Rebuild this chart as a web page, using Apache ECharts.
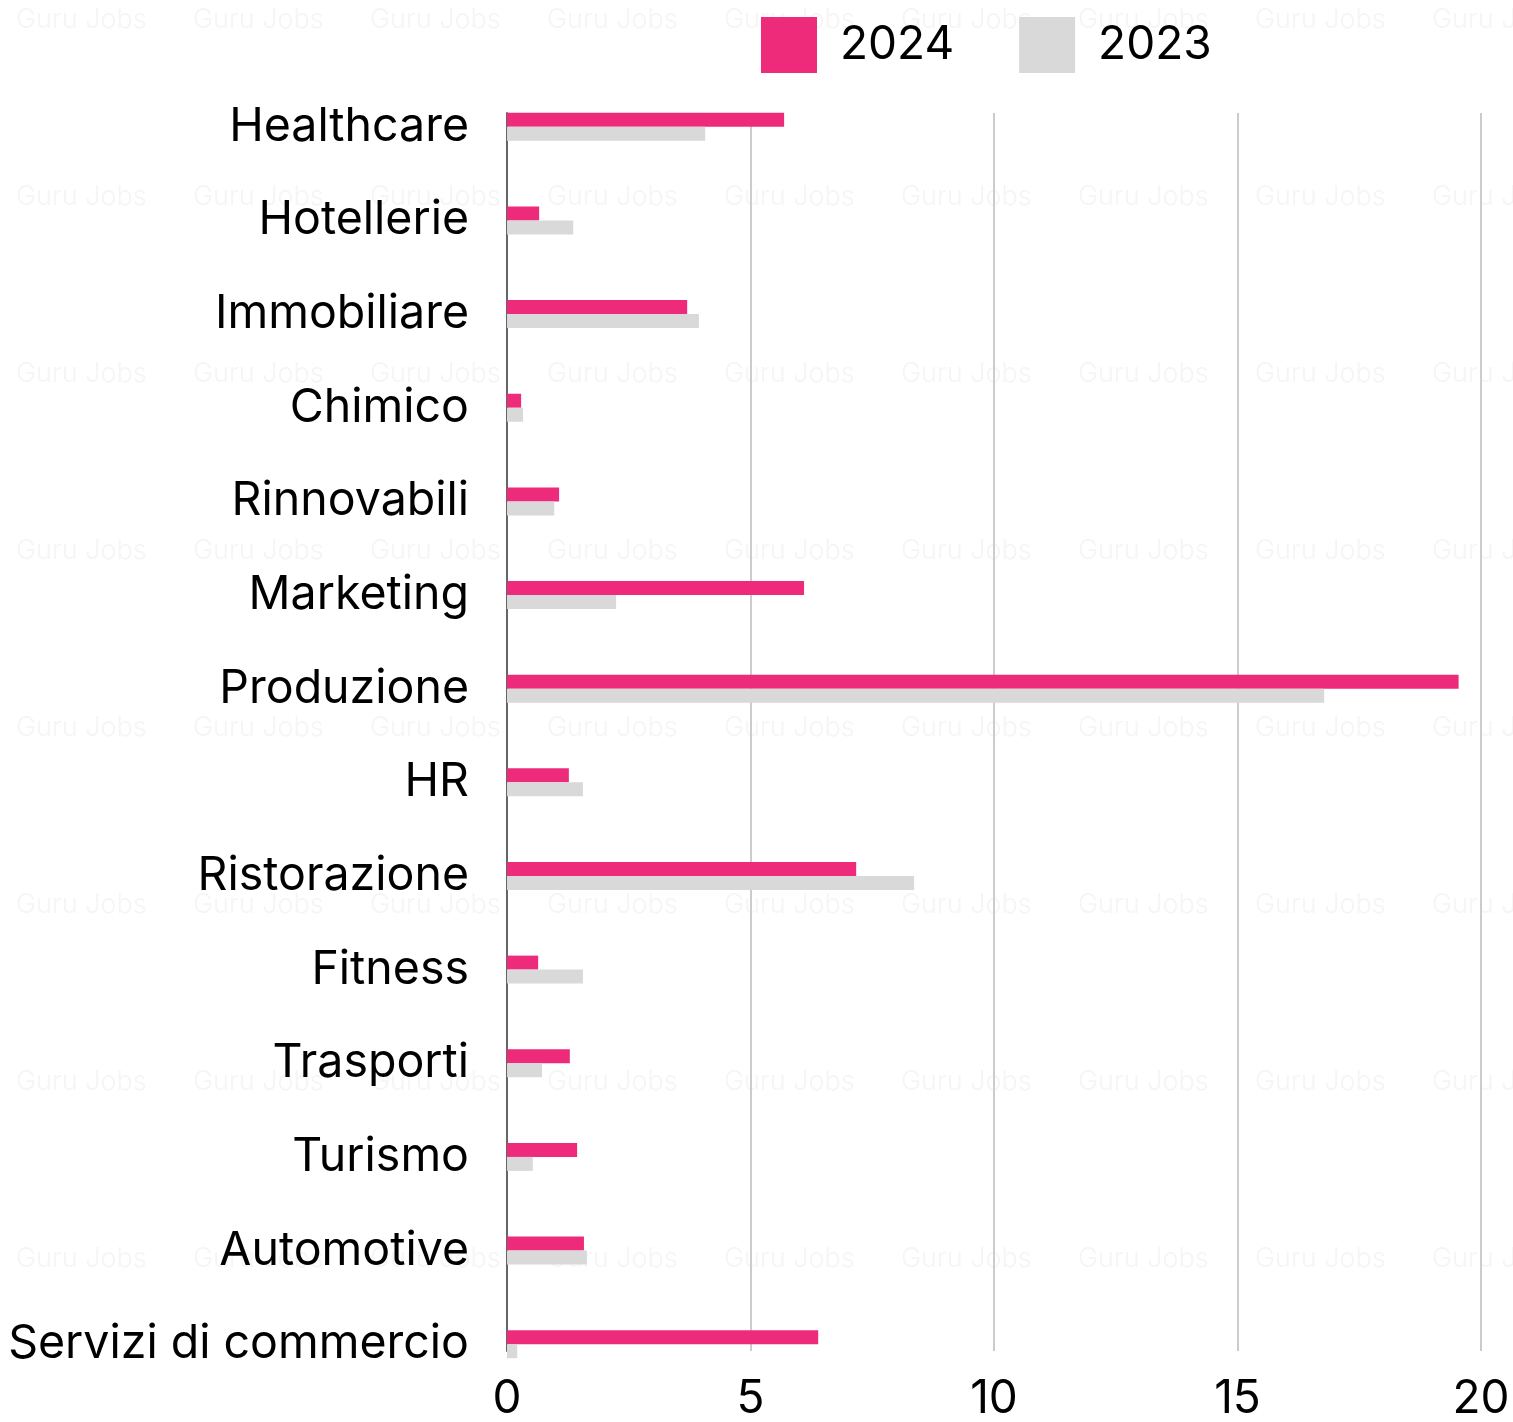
<!DOCTYPE html>
<html><head><meta charset="utf-8">
<script src="https://cdn.jsdelivr.net/npm/echarts@6/dist/echarts.min.js"></script>
<style>html,body{margin:0;padding:0;background:#fff}#c{width:1513px;height:1422px}</style>
</head><body><div id="c"></div>
<script>
const categories = ["Healthcare","Hotellerie","Immobiliare","Chimico","Rinnovabili","Marketing","Produzione","HR","Ristorazione","Fitness","Trasporti","Turismo","Automotive","Servizi di commercio"];
const values2024 = [5.69,0.66,3.70,0.29,1.07,6.10,19.54,1.27,7.17,0.64,1.29,1.44,1.58,6.39];
const values2023 = [4.07,1.36,3.94,0.33,0.97,2.24,16.78,1.56,8.36,1.56,0.72,0.53,1.64,0.21];
const xTicks = [0,5,10,15,20];

const FONT = 'Inter';
const chart = echarts.init(document.getElementById('c'), null, {renderer:'canvas'});

// faint watermark tiles (decoration)
const wm = [];
for (let r = 0; r < 9; r++) {
  for (let c = 0; c < 9; c++) {
    wm.push({type:'text', silent:true, z:-10, left: 16 + c*177, top: 6 + r*177,
      style:{text:'Guru Jobs', fill:'#f5f5f5', font:'300 27px ' + FONT}});
  }
}

chart.setOption({
  backgroundColor:'#ffffff',
  animation:false,
  textStyle:{fontFamily:FONT},
  graphic: wm,
  legend:{
    data:['2024','2023'], left:756, top:12, itemWidth:56, itemHeight:56, itemGap:65,
    icon:'rect',
    textStyle:{fontSize:46, color:'#000', fontFamily:FONT, padding:[0,0,0,18]}
  },
  grid:[
    {left:507, right:32, top:80, bottom:31, containLabel:false},
    {left:507, right:32, top:113, bottom:64, containLabel:false}
  ],
  xAxis:[
    {gridIndex:0, type:'value', min:0, max:20, interval:5, show:false},
    {gridIndex:1, type:'value', min:0, max:20, interval:5,
     axisLine:{show:false}, axisTick:{show:false},
     splitLine:{show:true, lineStyle:{color:'#cccccc', width:2}},
     axisLabel:{fontSize:46, color:'#000', margin:25, fontFamily:FONT,
       formatter: v => xTicks.includes(v) ? String(v) : ''}}
  ],
  yAxis:[
    {gridIndex:0, type:'category', data:categories, inverse:true,
     axisLine:{show:false}, axisTick:{show:false},
     axisLabel:{fontSize:46.5, color:'#000', margin:38, fontFamily:FONT}},
    {gridIndex:1, type:'category', data:categories, inverse:true,
     axisLine:{show:true, lineStyle:{color:'#666666', width:2}}, axisTick:{show:false},
     axisLabel:{show:false}, splitLine:{show:false}}
  ],
  series:[
    {name:'2024', type:'bar', xAxisIndex:0, yAxisIndex:0, data:values2024, barWidth:14, barGap:'0%',
     itemStyle:{color:'#ee2a7b'}},
    {name:'2023', type:'bar', xAxisIndex:0, yAxisIndex:0, data:values2023, barWidth:14, barGap:'0%',
     itemStyle:{color:'#d9d9d9'}}
  ]
});
</script></body></html>
